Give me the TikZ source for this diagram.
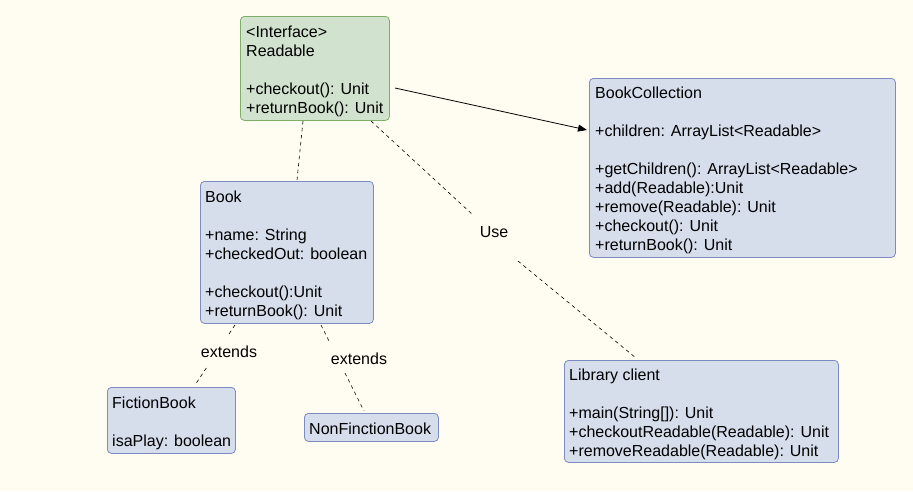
\documentclass[tikz,border=0pt]{standalone}
\usepackage{fontspec}
\setmainfont{Liberation Sans}
\usetikzlibrary{calc,arrows.meta}
\definecolor{bgc}{HTML}{FFFDF1}
\definecolor{bluef}{HTML}{D6DDEB}
\definecolor{blued}{HTML}{7C8BC2}
\definecolor{greenf}{HTML}{D1E3CE}
\definecolor{greend}{HTML}{7FAE68}
\tikzset{
  box/.style={draw=blued, fill=bluef, rounded corners=4pt, line width=0.8pt, anchor=north west, inner sep=0pt},
  ibox/.style={box, draw=greend, fill=greenf},
  txt/.style={anchor=north west, align=left, inner sep=0pt, font=\fontsize{16}{19}\selectfont},
  lbl/.style={font=\fontsize{16}{19}\selectfont, inner sep=1pt},
  dashline/.style={draw=black, dash pattern=on 3.5pt off 3.5pt, line width=0.6pt},
}
\begin{document}
\begin{tikzpicture}[x=1pt,y=-1pt]
\useasboundingbox[fill=bgc] (0,0) rectangle (913,491);
% boxes
\node[ibox, minimum width=149pt, minimum height=104pt] (rd) at (240,16) {};
\node[box, minimum width=306pt, minimum height=179pt] (bc) at (589,78) {};
\node[box, minimum width=173pt, minimum height=142pt] (bk) at (200,181) {};
\node[box, minimum width=128pt, minimum height=66pt] (fb) at (107,387) {};
\node[box, minimum width=134pt, minimum height=28pt] (nf) at (304,413) {};
\node[box, minimum width=274pt, minimum height=102pt] (lc) at (564,360) {};
% texts
\node[txt] (rdt) at (246,25.5) {<Interface>\\Readable\\[19pt]+checkout(): Unit\\+returnBook(): Unit};
\node[txt] (bct) at (595,86.5) {BookCollection\\[19pt]+children: ArrayList<Readable>\\[19pt]+getChildren(): ArrayList<Readable>\\+add(Readable):Unit\\+remove(Readable): Unit\\+checkout(): Unit\\+returnBook(): Unit};
\node[txt] (bkt) at (205,190.5) {Book\\[19pt]+name: String\\+checkedOut: boolean\\[19pt]+checkout():Unit\\+returnBook(): Unit};
\node[txt] (fbt) at (112,396.5) {FictionBook\\[19pt]isaPlay: boolean};
\node[txt] (nft) at (309,422.5) {NonFinctionBook};
\node[txt] (lct) at (569,368.5) {Library client\\[19pt]+main(String[]): Unit\\+checkoutReadable(Readable): Unit\\+removeReadable(Readable): Unit};
% association arrow
\coordinate (a1) at (395,88);
\coordinate (a2) at (587,130);
\draw[line width=0.8pt, -{Triangle[length=9pt,width=7pt]}] (a1) -- (a2);
% realization Readable - Book
\coordinate (b1) at (303,121);
\coordinate (b2) at (297,180);
\draw[dashline] (b1) -- (b2);
% use
\coordinate (u1) at (371,121);
\coordinate (u2) at (636,358);
\coordinate (ug1) at (473,215);
\coordinate (ug2) at (518,261);
\draw[dashline] (u1) -- (ug1);
\draw[dashline] (ug2) -- (u2);
\node[lbl] (use) at (494,232) {Use};
% extends 1
\coordinate (e1) at (235,325);
\coordinate (e2) at (195,385);
\draw[dashline] (e1) -- ($(e1)!0.167!(e2)$);
\draw[dashline] ($(e1)!0.717!(e2)$) -- (e2);
\node[lbl] (ext1) at (229,352) {extends};
% extends 2
\coordinate (f1) at (321,325);
\coordinate (f2) at (364,411);
\draw[dashline] (f1) -- ($(f1)!0.198!(f2)$);
\draw[dashline] ($(f1)!0.558!(f2)$) -- (f2);
\node[lbl] (ext2) at (359,359) {extends};
\end{tikzpicture}
\end{document}
